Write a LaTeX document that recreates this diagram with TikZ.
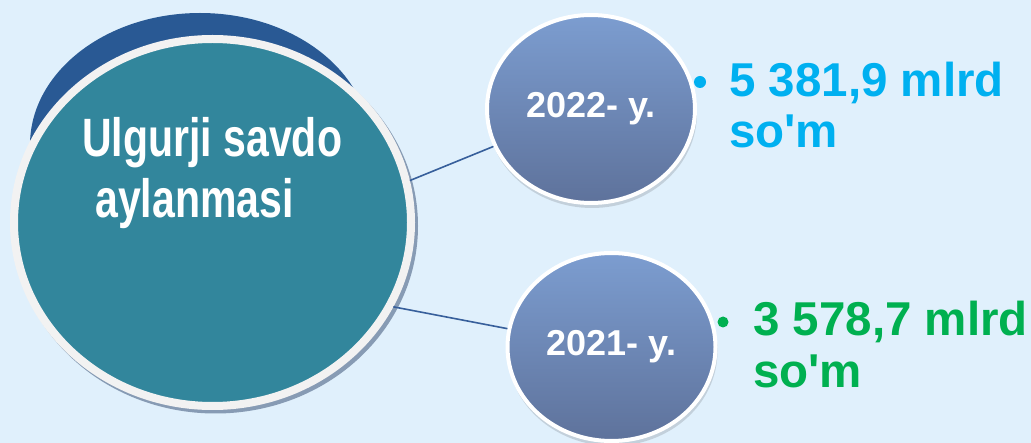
\documentclass[tikz,border=0pt]{standalone}
\usepackage{fontspec}
\setmainfont{Liberation Sans}[Ligatures=TeXOff]
\newfontfamily\narrowbf{Liberation Sans}[FakeStretch=0.76,Ligatures=TeXOff]
\usetikzlibrary{shapes.geometric}
\definecolor{bgc}{RGB}{224,240,252}
\definecolor{tealfill}{RGB}{50,134,156}
\definecolor{darkcres}{RGB}{41,89,148}
\definecolor{ringgray}{RGB}{242,242,242}
\definecolor{shadowc}{RGB}{135,155,180}
\definecolor{smalltop}{RGB}{124,157,208}
\definecolor{smallbot}{RGB}{94,114,155}
\definecolor{linkc}{RGB}{55,95,155}
\definecolor{cyantext}{RGB}{0,176,240}
\definecolor{greentext}{RGB}{0,176,80}
\tikzset{
  blob/.style={ellipse,inner sep=0pt},
  yearbox/.style={blob,top color=smalltop,bottom color=smallbot,draw=white,line width=4pt,
    text=white,font=\fontsize{36}{40}\selectfont\bfseries,minimum width=208pt,minimum height=188pt},
  softshadow/.style={blob,fill=black,opacity=0.13,minimum width=210pt,minimum height=190pt},
  link/.style={draw=linkc,line width=1.6pt},
  titletext/.style={inner sep=0pt,anchor=base west,text=white,font=\narrowbf\fontsize{54}{61}\selectfont\bfseries},
  valtext/.style={inner sep=0pt,anchor=base west,font=\fontsize{47.5}{51}\selectfont\bfseries},
  dot/.style={circle,inner sep=0pt,minimum size=12pt}
}
\begin{document}
\begin{tikzpicture}[x=1pt,y=-1pt]
\fill[bgc] (0,0) rectangle (1031,443);
\useasboundingbox (0,0) rectangle (1031,443);
% big circle group
\node[blob,fill=darkcres,minimum width=340pt,minimum height=264pt] (crescent) at (200,145) {};
\node[blob,fill=shadowc,minimum width=405pt,minimum height=375pt] (bigshadow) at (215.5,226) {};
\node[blob,fill=tealfill,draw=ringgray,line width=8pt,minimum width=397pt,minimum height=367pt] (big) at (212.5,222.5) {};
\node[titletext] (title1) at (82,157) {Ulgurji savdo};
\node[titletext] (title2) at (95,218) {aylanmasi};
% small circles
\node[softshadow] (sh22) at (592,113) {};
\node[softshadow] (sh21) at (612.5,351) {};
\node[yearbox] (y22) at (591,109) {2022- y.};
\node[yearbox] (y21) at (611.5,347) {2021- y.};
% connectors
\draw[link] (big.12) -- (y22.201);
\draw[link] (big.-25) -- (y21.170);
% values
\node[dot,fill=cyantext] (b22) at (700,82) {};
\node[valtext,text=cyantext] (v22a) at (729,97) {5 381,9 mlrd};
\node[valtext,text=cyantext] (v22b) at (729,148) {so'm};
\node[dot,fill=greentext,minimum size=11pt] (b21) at (723,322) {};
\node[valtext,text=greentext] (v21a) at (753,336) {3 578,7 mlrd};
\node[valtext,text=greentext] (v21b) at (753,388) {so'm};
\end{tikzpicture}
\end{document}
